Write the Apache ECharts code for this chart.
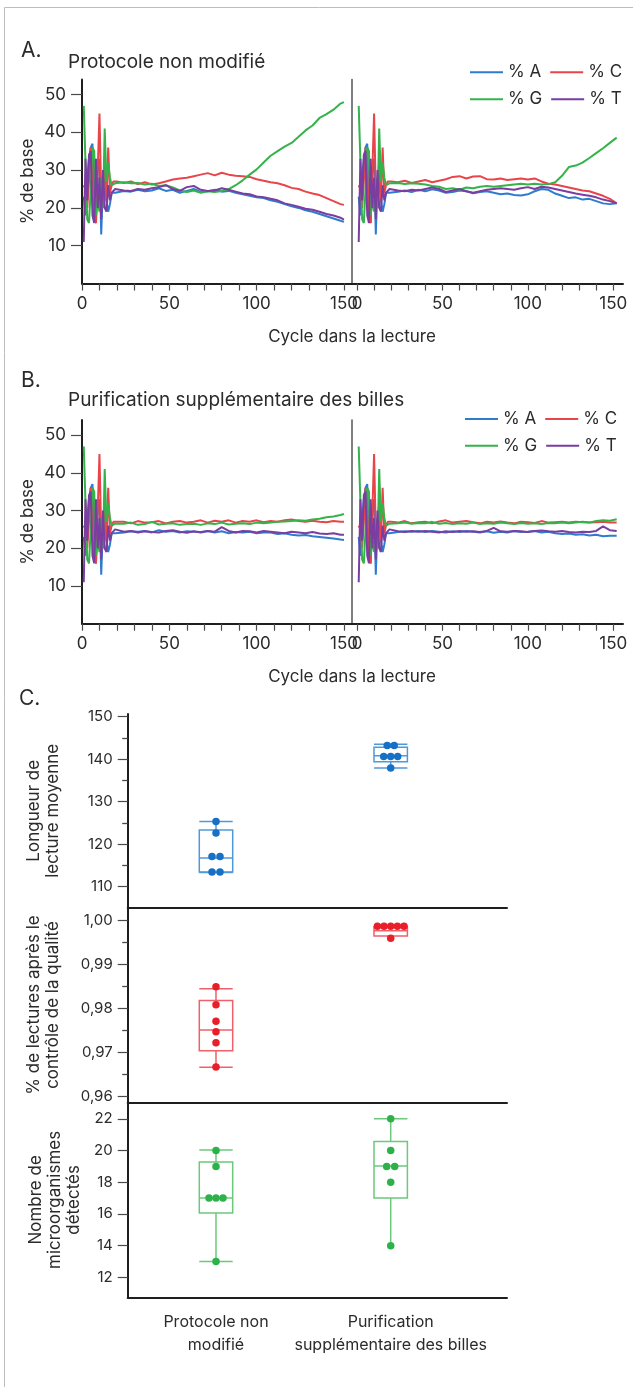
<!DOCTYPE html>
<html><head><meta charset="utf-8">
<script src="https://cdn.jsdelivr.net/npm/echarts@6/dist/echarts.min.js"></script>
<style>html,body{margin:0;padding:0;background:#fff}#chart{width:633px;height:1387px}</style>
</head><body><div id="chart"></div>
<script>
// ---------- DATA ----------
const cyclesLeft = [1,2,3,4,5,6,7,8,9,10,11,12,13,14,15,16,17,18,19,20,24,28,32,36,40,44,48,52,56,60,64,68,72,76,80,84,88,92,96,100,104,108,112,116,120,124,128,132,136,140,144,148,150];
const cyclesRight = [1,2,3,4,5,6,7,8,9,10,11,12,13,14,15,16,17,18,19,20,24,28,32,36,40,44,48,52,56,60,64,68,72,76,80,84,88,92,96,100,104,108,112,116,120,124,128,132,136,140,144,148,152];

// first 20 cycles (same noisy start in every run)
const earlyA = [23,18,28,33,36,37,20,16,30,33,13,26,32,22,19,21,24,24.5,24,24.5];
const earlyC = [26,25,20,27,36,30,17,16,30,45,24,20,30,22,36,24,26,27,26.5,27];
const earlyG = [47,32,17,16,25,36,35,18,22,19,28,20,41,27,32,28,26,26.5,26.5,26.5];
const earlyT = [11,33,22,34,35,18,16,33,20,28,17,30,20,19,26,22,24,24.5,25,24.5];

// A. Protocole non modifié - left run
const aLeftA = [24.5,24.3,24.8,24.4,24.6,25.2,24.5,24.8,24.0,24.5,25.0,24.2,24.4,24.8,24.3,24.5,24.0,23.6,23.2,22.8,22.6,22.0,21.6,21.0,20.4,20.0,19.4,19.0,18.4,17.8,17.2,16.6,16.3];
const aLeftC = [26.6,27.0,26.3,26.8,26.2,26.5,27.0,27.5,27.8,28.0,28.4,28.8,29.2,28.6,29.3,28.8,28.5,28.4,28.2,27.6,27.2,26.8,26.5,26.0,25.3,25.0,24.3,23.8,23.4,22.6,21.8,21.0,20.8];
const aLeftG = [26.8,26.5,26.6,26.2,26.4,25.8,26.0,25.4,24.6,24.2,24.6,24.0,24.4,24.2,24.5,25.0,26.0,27.3,28.8,30.2,32.0,33.8,35.0,36.2,37.2,38.8,40.5,41.8,43.8,44.8,46.0,47.6,48.0];
const aLeftT = [24.6,24.5,25.0,24.8,25.2,25.5,26.0,25.0,24.5,25.5,25.8,24.8,24.5,24.6,25.2,24.8,24.3,23.8,23.6,23.0,22.8,22.4,22.0,21.2,20.8,20.3,19.8,19.5,19.0,18.4,18.0,17.4,16.9];
// A - right run
const aRightA = [24.3,24.6,24.2,24.8,24.4,24.9,24.6,24.0,24.2,24.6,24.4,23.9,24.2,24.4,24.0,23.6,23.8,23.4,23.3,23.6,24.4,25.0,24.8,23.8,23.2,22.6,22.8,22.2,22.4,21.8,21.2,21.0,21.2];
const aRightC = [26.8,27.2,26.6,27.0,27.4,26.8,27.2,27.6,28.2,28.4,27.8,28.3,28.4,27.6,27.5,27.8,27.4,27.6,27.8,27.5,27.8,27.0,26.4,26.2,25.8,25.4,25.0,24.6,24.4,23.8,23.2,22.4,21.2];
const aRightG = [26.6,26.3,26.5,26.4,26.2,25.8,25.6,25.0,25.2,24.8,25.4,25.2,25.6,25.8,25.6,25.8,26.0,26.2,26.4,26.2,26.4,26.2,26.3,26.8,28.5,30.8,31.2,32.0,33.2,34.5,35.8,37.2,38.6];
const aRightT = [24.6,24.4,24.8,24.6,25.0,25.4,25.0,24.2,24.6,25.0,24.4,24.0,24.4,24.8,25.0,25.2,25.0,24.8,25.2,25.5,25.0,25.6,25.4,25.0,24.6,24.2,23.8,23.5,23.2,22.8,22.2,21.8,21.2];
// B. Purification supplémentaire des billes - left run
const bLeftA = [24.2,24.5,24.4,24.6,24.2,24.8,24.4,24.6,24.2,24.5,24.4,24.3,24.6,24.2,24.5,24.0,24.3,24.2,24.4,24.0,24.2,24.2,23.8,24.0,23.6,23.4,23.5,23.2,23.0,22.8,22.6,22.3,22.2];
const bLeftC = [27.0,26.6,27.2,26.8,26.9,27.2,26.6,27.0,27.2,26.8,27.0,27.4,26.8,27.3,27.0,27.4,26.8,27.2,27.0,27.4,26.9,27.2,27.0,27.4,27.6,27.2,27.0,27.3,27.0,26.9,27.2,27.0,27.0];
const bLeftG = [26.5,26.8,26.2,26.4,27.0,26.3,26.5,26.6,26.2,26.4,26.5,26.2,26.6,26.4,26.8,26.3,26.5,26.6,26.4,26.8,26.6,26.8,27.0,27.1,27.2,27.4,27.3,27.6,27.8,28.2,28.4,28.8,29.1];
const bLeftT = [24.4,24.6,24.2,24.5,24.3,24.2,24.6,24.8,24.4,24.1,24.5,24.2,24.6,24.4,25.6,24.6,24.2,24.6,24.5,24.2,24.6,24.4,24.2,24.0,24.4,24.2,24.0,24.3,23.9,23.8,24.0,23.6,23.6];
// B - right run
const bRightA = [24.3,24.5,24.4,24.6,24.3,24.6,24.4,24.2,24.5,24.3,24.6,24.4,24.2,24.5,24.1,24.4,24.2,24.6,24.3,24.4,24.6,24.2,24.4,24.0,23.8,23.9,23.6,23.7,23.4,23.6,23.2,23.3,23.3];
const bRightC = [26.8,27.2,26.6,26.9,27.0,26.6,27.1,27.4,26.8,27.0,27.2,26.9,26.6,27.0,26.8,27.1,26.8,26.6,27.0,26.9,26.7,27.2,26.8,26.9,27.0,26.8,27.0,26.9,26.8,26.9,27.0,26.8,26.8];
const bRightG = [26.6,26.8,26.5,26.7,26.6,27.0,26.5,26.7,26.4,26.6,26.5,26.8,26.4,26.6,26.5,26.8,26.6,26.4,26.7,26.5,26.6,26.4,26.7,26.6,26.8,26.6,26.8,27.0,26.8,27.2,27.4,27.3,27.7];
const bRightT = [24.5,24.3,24.6,24.4,24.6,24.4,24.2,24.5,24.3,24.6,24.4,24.5,24.3,24.6,25.4,24.5,24.4,24.6,24.5,24.3,24.6,24.7,24.5,24.4,24.6,24.3,24.2,24.4,24.3,24.6,25.8,24.8,24.6];

const baseNames = ['% A', '% C', '% G', '% T'];
const baseTicks = [10, 20, 30, 40, 50];
const cycleTicks = [0,10,20,30,40,50,60,70,80,90,100,110,120,130,140,150];
const cycleLabels = [0, 50, 100, 150];

// C. box plots  [min, Q1, median, Q3, max]
const categories = ['Protocole non\nmodifié', 'Purification\nsupplémentaire des billes'];
const readLengthBox = [[113.3, 113.4, 116.7, 123.3, 125.3], [137.9, 139.4, 140.8, 142.8, 143.5]];
const readLengthPoints = [[125.3, 122.6, 117.1, 117.1, 113.4, 113.4], [143.2, 143.2, 140.6, 140.6, 140.6, 137.9]];
const qcBox = [[0.96665, 0.9704, 0.9751, 0.9818, 0.98445], [0.99585, 0.99638, 0.99758, 0.99848, 0.99864]];
const qcPoints = [[0.9849, 0.9808, 0.9771, 0.9747, 0.9722, 0.9667], [0.9986, 0.9986, 0.9986, 0.9986, 0.9986, 0.99585]];
const microBox = [[13, 16.06, 17, 19.28, 20.04], [14.08, 17, 19.03, 20.57, 22]];
const microPoints = [[20, 19, 17, 17, 17, 13], [22, 20, 19, 19, 18, 14]];
const readLengthTicks = [110, 120, 130, 140, 150];
const readLengthMinor = [115, 125, 135, 145];
const qcTicks = [0.96, 0.97, 0.98, 0.99, 1.00];
const qcMinor = [0.965, 0.975, 0.985, 0.995];
const microTicks = [12, 14, 16, 18, 20, 22];

// ---------- STYLE / LAYOUT ----------
const FONT = 'Inter';
const TXT = '#2b2b2b';
const lineColors = ['#2f7ccf', '#e8454a', '#36b24a', '#7a3da0'];
// horizontal pixel offsets of overlapping dots (beeswarm layout)
const jitterRead = [[0, 0, -4, 4, -4, 4], [-3.5, 3.5, -7, 0, 7, 0]];
const jitterQc = [[0, 0, 0, 0, 0, 0], [-13.3, -6.7, 0, 6.7, 13.3, 0]];
const jitterMicro = [[0, 0, -7, 0, 7, 0], [0, 0, -4, 4, 0, 0]];

const grids = [
  {left: 82, top: 79.4, width: 270, height: 204.1},
  {left: 352, top: 79.4, width: 271, height: 204.1},
  {left: 82, top: 420, width: 270, height: 203.7},
  {left: 352, top: 420, width: 271, height: 203.7},
  {left: 127.7, top: 714, width: 379.3, height: 193.5},
  {left: 127.7, top: 907.5, width: 379.3, height: 195},
  {left: 127.7, top: 1102.5, width: 379.3, height: 194.8}
].map(g => Object.assign({outerBoundsMode: 'none', containLabel: false}, g));

const blackLine = {show: true, onZero: false, lineStyle: {color: '#1e1e1e', width: 2}};
const tickStyle = {color: '#4a4a4a', width: 1.2};

function cycleX(gridIndex, min, max) {
  return {
    type: 'value', gridIndex, min, max, position: 'bottom',
    axisLine: blackLine,
    axisTick: {show: true, customValues: cycleTicks, length: 7, lineStyle: tickStyle},
    axisLabel: {show: true, customValues: cycleLabels, margin: 12, fontSize: 17, color: TXT, fontFamily: FONT},
    splitLine: {show: false}
  };
}
function baseY(gridIndex, withLabels) {
  const ax = {type: 'value', gridIndex, min: 0, max: 54, position: 'left', splitLine: {show: false}};
  if (withLabels) {
    Object.assign(ax, {
      axisLine: blackLine,
      axisTick: {show: true, customValues: baseTicks, length: 11, lineStyle: tickStyle},
      axisLabel: {show: true, customValues: baseTicks, margin: 16, fontSize: 17, color: TXT, fontFamily: FONT},
      name: '% de base', nameLocation: 'middle', nameRotate: 90, nameGap: 46,
      nameTextStyle: {fontSize: 17, color: TXT, fontFamily: FONT}
    });
  } else {
    Object.assign(ax, {
      axisLine: {show: true, onZero: false, lineStyle: {color: '#555', width: 1.5}},
      axisTick: {show: false}, axisLabel: {show: false}
    });
  }
  return ax;
}
const boxXMin = 0.4946, boxXMax = 2.6657;
function boxX(gridIndex, withLabels) {
  return {
    type: 'value', gridIndex, min: boxXMin, max: boxXMax, position: 'bottom',
    axisLine: blackLine, axisTick: {show: false},
    axisLabel: withLabels ? {
      show: true, customValues: [1, 2], margin: 13, fontSize: 16, lineHeight: 23,
      color: TXT, fontFamily: FONT,
      formatter: v => categories[Math.round(v) - 1]
    } : {show: false},
    splitLine: {show: false}
  };
}
function boxY(gridIndex, min, max, ticks, name, gap, fmt) {
  return {
    type: 'value', gridIndex, min, max, position: 'left',
    axisLine: blackLine,
    axisTick: {show: true, customValues: ticks, length: 10, lineStyle: tickStyle},
    axisLabel: {show: true, customValues: ticks, margin: 15, fontSize: 15, color: TXT, fontFamily: FONT,
      formatter: fmt || (v => String(v))},
    splitLine: {show: false},
    name, nameLocation: 'middle', nameRotate: 90, nameGap: gap,
    nameTextStyle: {fontSize: 17, lineHeight: 19, color: TXT, fontFamily: FONT}
  };
}
// secondary left axis carrying only the short minor ticks
function minorY(gridIndex, min, max, ticks) {
  return {
    type: 'value', gridIndex, min, max, position: 'left',
    axisLine: {show: true, onZero: false, lineStyle: {color: 'rgba(0,0,0,0)'}},
    axisLabel: {show: false}, splitLine: {show: false},
    axisTick: {show: true, customValues: ticks, length: 5.5, lineStyle: {color: '#4a4a4a', width: 1.3}}
  };
}

const xAxis = [
  cycleX(0, 0, 154.6), cycleX(1, -2.93, 155.7), cycleX(2, 0, 154.6), cycleX(3, -2.93, 155.7),
  boxX(4, false), boxX(5, false), boxX(6, true)
];
const yAxis = [
  baseY(0, true), baseY(1, false), baseY(2, true), baseY(3, false),
  boxY(4, 105.06, 150.64, readLengthTicks, 'Longueur de\nlecture moyenne', 65),
  boxY(5, 0.95869, 1.00283, qcTicks, '% de lectures après le\ncontrôle de la qualité', 65, v => v.toFixed(2).replace('.', ',')),
  boxY(6, 10.74, 23.03, microTicks, 'Nombre de\nmicroorganismes\ndétectés', 44),
  minorY(4, 105.06, 150.64, readLengthMinor),
  minorY(5, 0.95869, 1.00283, qcMinor)
];

// ---------- SERIES ----------
const series = [];
const panels = [
  {grid: 0, cycles: cyclesLeft, late: [aLeftA, aLeftC, aLeftG, aLeftT]},
  {grid: 1, cycles: cyclesRight, late: [aRightA, aRightC, aRightG, aRightT]},
  {grid: 2, cycles: cyclesLeft, late: [bLeftA, bLeftC, bLeftG, bLeftT]},
  {grid: 3, cycles: cyclesRight, late: [bRightA, bRightC, bRightG, bRightT]}
];
const earlies = [earlyA, earlyC, earlyG, earlyT];
panels.forEach(p => {
  p.late.forEach((lateVals, k) => {
    const vals = earlies[k].concat(lateVals);
    series.push({
      type: 'line', name: baseNames[k], xAxisIndex: p.grid, yAxisIndex: p.grid,
      data: p.cycles.map((c, i) => [c, vals[i]]),
      symbol: 'none', showSymbol: false,
      lineStyle: {color: lineColors[k], width: 2},
      itemStyle: {color: lineColors[k]},
      emphasis: {disabled: true}, animation: false
    });
  });
});

function boxRenderer(color, caps) {
  return function (params, api) {
    const x = api.value(0);
    const pMin = api.coord([x, api.value(1)]);
    const cx = pMin[0];
    const yMin = pMin[1];
    const yQ1 = api.coord([x, api.value(2)])[1];
    const yMed = api.coord([x, api.value(3)])[1];
    const yQ3 = api.coord([x, api.value(4)])[1];
    const yMax = api.coord([x, api.value(5)])[1];
    const hw = 16.7;
    const st = {stroke: color, lineWidth: 1.5, fill: 'transparent'};
    const capFlags = caps[params.dataIndex];
    const children = [
      {type: 'line', shape: {x1: cx, y1: yMin, x2: cx, y2: yQ1}, style: st},
      {type: 'line', shape: {x1: cx, y1: yQ3, x2: cx, y2: yMax}, style: st},
      {type: 'rect', shape: {x: cx - hw, y: yQ3, width: 2 * hw, height: yQ1 - yQ3}, style: st},
      {type: 'line', shape: {x1: cx - hw, y1: yMed, x2: cx + hw, y2: yMed}, style: st}
    ];
    if (capFlags[0]) children.push({type: 'line', shape: {x1: cx - hw, y1: yMin, x2: cx + hw, y2: yMin}, style: st});
    if (capFlags[1]) children.push({type: 'line', shape: {x1: cx - hw, y1: yMax, x2: cx + hw, y2: yMax}, style: st});
    return {type: 'group', children};
  };
}
function addBoxPanel(grid, boxes, points, jitter, boxColor, dotColor, caps) {
  series.push({
    type: 'custom', xAxisIndex: grid, yAxisIndex: grid,
    data: boxes.map((b, i) => [i + 1].concat(b)),
    encode: {x: 0, y: [1, 2, 3, 4, 5]},
    renderItem: boxRenderer(boxColor, caps), animation: false, silent: true, z: 2
  });
  const pts = [];
  points.forEach((vals, i) => vals.forEach((v, j) => {
    pts.push({value: [i + 1, v], symbolOffset: [jitter[i][j], 0]});
  }));
  series.push({
    type: 'scatter', xAxisIndex: grid, yAxisIndex: grid, data: pts,
    symbol: 'circle', symbolSize: 7.5, itemStyle: {color: dotColor, opacity: 1},
    animation: false, silent: true, z: 3
  });
}
addBoxPanel(4, readLengthBox, readLengthPoints, jitterRead, '#4f99da', '#1671c6', [[true, true], [true, true]]);
addBoxPanel(5, qcBox, qcPoints, jitterQc, '#ef6068', '#e81f2a', [[true, true], [false, true]]);
addBoxPanel(6, microBox, microPoints, jitterMicro, '#6cc87c', '#2db24a', [[true, true], [false, true]]);

// ---------- TEXT / FRAME ----------
function txt(x, y, text, size, align) {
  return {type: 'text', x, y, silent: true,
    style: {text, font: size + 'px ' + FONT, fill: TXT, align: align || 'left', verticalAlign: 'middle'}};
}
const graphic = [
  {type: 'rect', shape: {x: 4.5, y: 7.5, width: 700, height: 1450}, silent: true, z: -10,
    style: {fill: 'none', stroke: '#bdbdbd', lineWidth: 1}},
  txt(21, 51, 'A.', 21),
  txt(68, 62.5, 'Protocole non modifié', 19),
  txt(352, 337, 'Cycle dans la lecture', 17, 'center'),
  txt(21, 381, 'B.', 21),
  txt(68, 400, 'Purification supplémentaire des billes', 19),
  txt(352, 677, 'Cycle dans la lecture', 17, 'center'),
  txt(19, 699, 'C.', 21)
];

const legendCommon = {orient: 'horizontal', padding: 0, itemWidth: 33, itemHeight: 2, itemGap: 9, icon: 'rect',
  selectedMode: false, textStyle: {fontSize: 17, color: TXT, fontFamily: FONT, width: 34}};
const legend = [
  Object.assign({left: 470, top: 63.8, data: ['% A', '% C']}, legendCommon),
  Object.assign({left: 470, top: 90.8, data: ['% G', '% T']}, legendCommon),
  Object.assign({left: 465, top: 410.5, data: ['% A', '% C']}, legendCommon),
  Object.assign({left: 465, top: 437.2, data: ['% G', '% T']}, legendCommon)
];

const chart = echarts.init(document.getElementById('chart'), null, {renderer: 'canvas'});
chart.setOption({
  backgroundColor: '#ffffff',
  animation: false,
  textStyle: {fontFamily: FONT},
  grid: grids, xAxis, yAxis, series, legend, graphic
});
</script>
</body></html>
